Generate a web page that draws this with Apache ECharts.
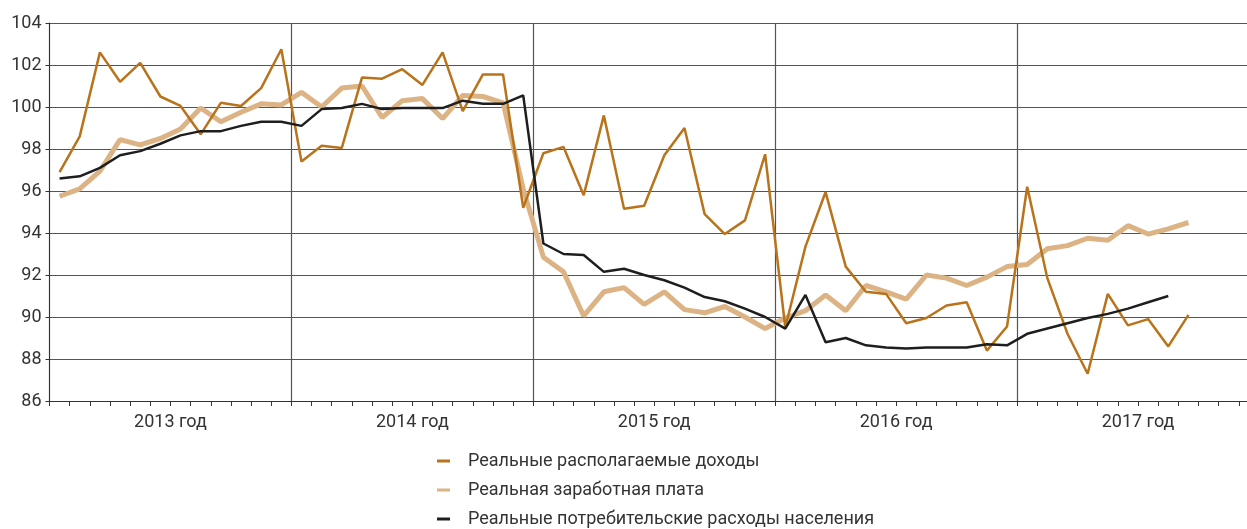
<!DOCTYPE html>
<html>
<head>
<meta charset="utf-8">
<script src="https://cdn.jsdelivr.net/npm/echarts@6/dist/echarts.min.js"></script>
<style>
  html, body { margin: 0; padding: 0; background: #fff; overflow: hidden; }
  /* the original picture is cropped on the right and at the bottom */
  #chart { width: 1259px; height: 560px; }
</style>
</head>
<body>
<div id="chart"></div>
<script>
var years = ['2013 год', '2014 год', '2015 год', '2016 год', '2017 год'];
var monthNames = ['янв', 'фев', 'мар', 'апр', 'май', 'июн', 'июл', 'авг', 'сен', 'окт', 'ноя', 'дек'];

// Реальные располагаемые доходы, янв 2013 - сен 2017
var income = [
  96.9, 98.6, 102.6, 101.2, 102.1, 100.5, 100.05, 98.7, 100.2, 100.05, 100.9, 102.75,
  97.4, 98.15, 98.05, 101.4, 101.35, 101.8, 101.05, 102.6, 99.8, 101.55, 101.55, 95.2,
  97.8, 98.1, 95.8, 99.6, 95.15, 95.3, 97.7, 99.0, 94.9, 93.95, 94.6, 97.75,
  89.5, 93.35, 95.95, 92.4, 91.2, 91.1, 89.7, 89.95, 90.55, 90.7, 88.4, 89.55,
  96.2, 91.85, 89.2, 87.3, 91.1, 89.6, 89.9, 88.6, 90.1
];
// Реальная заработная плата
var wages = [
  95.75, 96.1, 96.95, 98.45, 98.2, 98.5, 98.95, 99.95, 99.3, 99.75, 100.15, 100.1,
  100.7, 100.0, 100.9, 101.0, 99.5, 100.3, 100.4, 99.45, 100.55, 100.5, 100.2, 96.1,
  92.85, 92.15, 90.05, 91.2, 91.4, 90.6, 91.2, 90.35, 90.2, 90.5, 90.0, 89.45,
  89.95, 90.3, 91.05, 90.3, 91.5, 91.2, 90.85, 92.0, 91.85, 91.5, 91.9, 92.4,
  92.5, 93.25, 93.4, 93.75, 93.65, 94.35, 93.95, 94.2, 94.5
];
// Реальные потребительские расходы населения
var spending = [
  96.6, 96.7, 97.1, 97.7, 97.9, 98.25, 98.65, 98.85, 98.85, 99.1, 99.3, 99.3,
  99.1, 99.9, 99.95, 100.15, 99.9, 99.95, 99.95, 99.95, 100.3, 100.15, 100.15, 100.55,
  93.5, 93.0, 92.95, 92.15, 92.3, 92.0, 91.75, 91.4, 90.95, 90.75, 90.4, 90.0,
  89.45, 91.05, 88.8, 89.0, 88.65, 88.55, 88.5, 88.55, 88.55, 88.55, 88.7, 88.65,
  89.2, 89.45, 89.7, 89.95, 90.15, 90.4, 90.7, 91.0
];
var yMin = 86, yMax = 104, yStep = 2;

var months = [];
years.forEach(function (y) {
  monthNames.forEach(function (m) { months.push(m + ' ' + y.slice(0, 4)); });
});

var font = 'Roboto, sans-serif';
var chart = echarts.init(document.getElementById('chart'));

chart.setOption({
  animation: false,
  grid: { left: 49.5, right: 0, top: 23, bottom: 159, containLabel: false },
  legend: {
    orient: 'vertical',
    left: 437,
    top: 451,
    padding: 0,
    itemGap: 9,
    itemWidth: 13,
    itemHeight: 3,
    icon: 'rect',
    textStyle: { fontFamily: font, fontSize: 18, color: '#333', lineHeight: 20, padding: [0, 0, 0, 13] },
    data: ['Реальные располагаемые доходы', 'Реальная заработная плата', 'Реальные потребительские расходы населения']
  },
  xAxis: [
    {
      type: 'category',
      data: months,
      boundaryGap: true,
      axisLine: { lineStyle: { color: '#333', width: 1 } },
      axisTick: { show: true, interval: 0, length: 5, lineStyle: { color: '#333' } },
      axisLabel: { show: false },
      splitLine: { show: false }
    },
    {
      type: 'category',
      data: years,
      boundaryGap: true,
      position: 'bottom',
      axisLine: { show: false },
      axisTick: { show: false },
      axisLabel: { interval: 0, margin: 12, fontFamily: font, fontSize: 18, color: '#333' },
      splitLine: { show: true, interval: 0, lineStyle: { color: '#555', width: 1.2 } }
    }
  ],
  yAxis: {
    type: 'value',
    min: yMin,
    max: yMax,
    interval: yStep,
    axisLine: { show: true, lineStyle: { color: '#333', width: 1 } },
    axisTick: { show: true, length: 4, lineStyle: { color: '#333' } },
    axisLabel: { margin: 8, fontFamily: font, fontSize: 18, color: '#333' },
    splitLine: { lineStyle: { color: '#555', width: 1.2 } }
  },
  series: [
    {
      name: 'Реальные располагаемые доходы',
      type: 'line',
      data: income,
      symbol: 'none',
      color: '#b8731b',
      lineStyle: { width: 2.5, color: '#b8731b' },
      z: 3
    },
    {
      name: 'Реальная заработная плата',
      type: 'line',
      data: wages,
      symbol: 'none',
      color: '#dbb384',
      lineStyle: { width: 5, color: '#dbb384' },
      z: 2
    },
    {
      name: 'Реальные потребительские расходы населения',
      type: 'line',
      data: spending,
      symbol: 'none',
      color: '#1e1e1e',
      lineStyle: { width: 2.5, color: '#1e1e1e' },
      z: 4
    }
  ]
});
</script>
</body>
</html>
